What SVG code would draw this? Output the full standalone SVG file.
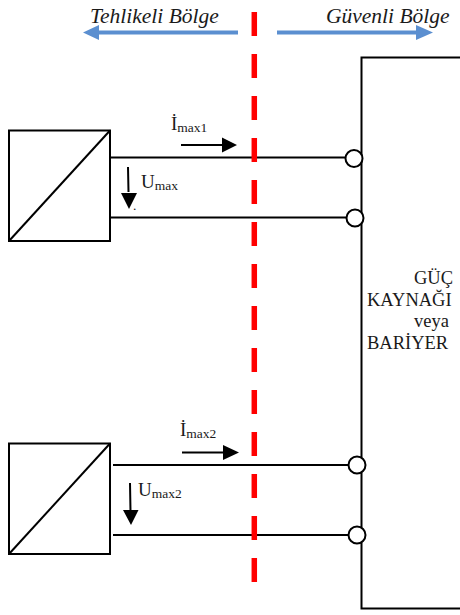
<svg xmlns="http://www.w3.org/2000/svg" width="460" height="615" viewBox="0 0 460 615">
<defs>
<style>
text{font-family:"Liberation Serif","Times New Roman",serif;fill:#1a1a1a}
.zone{font-size:21.500px;font-style:italic}
.lab{font-size:19px}
.sub{font-size:13.500px}
.pw{font-size:18.500px}
.k{fill:none;stroke:#000;stroke-width:2}
.w{stroke:#000;stroke-width:2;fill:none}
.c{fill:#fff;stroke:#000;stroke-width:2}
.thin{stroke:#000;stroke-width:2;fill:none}
.head{fill:#000}
.blue{stroke:#5b8fd0;stroke-width:4;fill:none}
.bhead{fill:#5b8fd0}
.red{stroke:#ff0000;stroke-width:5.500;stroke-dasharray:24 18;fill:none}
</style>
</defs>
<rect width="460" height="615" fill="#fff"/>
<g id="supply">
<path class="k" d="M460 57.500H361.500V608.500H460"/>
<text class="pw" x="414" y="284">GÜÇ</text>
<text class="pw" x="367" y="306">KAYNAĞI</text>
<text class="pw" x="414" y="327">veya</text>
<text class="pw" x="367" y="349">BARİYER</text>
</g>
<g id="converter1">
<rect class="k" x="9" y="130.500" width="101" height="110.500"/>
<path class="k" d="M9 241L110 130.500"/>
</g>
<g id="converter2">
<rect class="k" x="9" y="443.500" width="101" height="110.500"/>
<path class="k" d="M9 554L110 443.500"/>
</g>
<g id="connectors">
<path class="w" d="M110 157.500H346M110 217.500H347M113 465H349M113 535H349"/>
<path class="thin" d="M181 145H222M128 167L128.500 192M182 452.500H224M130 483L130.500 511"/>
<path class="head" d="M222 137.500L237 145L222 152.500ZM121 193H137L129 209ZM223 445L239 452.500L223 460ZM123 510H138.500L131 525Z"/>
<path class="blue" d="M238 32.500H97M277 32.500H418"/>
<path class="bhead" d="M83 32.500L99 25V40ZM433 32.500L416 25V40Z"/>
</g>
<g id="boundary">
<path class="red" d="M254.300 12V582"/>
</g>
<g id="terminals">
<circle class="c" cx="354" cy="158.500" r="8.500"/>
<circle class="c" cx="355" cy="218" r="8.500"/>
<circle class="c" cx="357" cy="465" r="8.500"/>
<circle class="c" cx="357" cy="535" r="8.500"/>
</g>
<g id="labels">
<text class="zone" x="90" y="23">Tehlikeli Bölge</text>
<text class="zone" x="326" y="23">Güvenli Bölge</text>
<text class="lab" x="171" y="130">İ<tspan class="sub" dy="2">max1</tspan></text>
<text class="lab" x="141" y="188">U<tspan class="sub" dy="2">max</tspan></text>
<text class="lab" x="180" y="436">İ<tspan class="sub" dy="2">max2</tspan></text>
<text class="lab" x="138" y="496">U<tspan class="sub" dy="2">max2</tspan></text>
<text class="sub" x="133" y="210">.</text>
</g>
</svg>
